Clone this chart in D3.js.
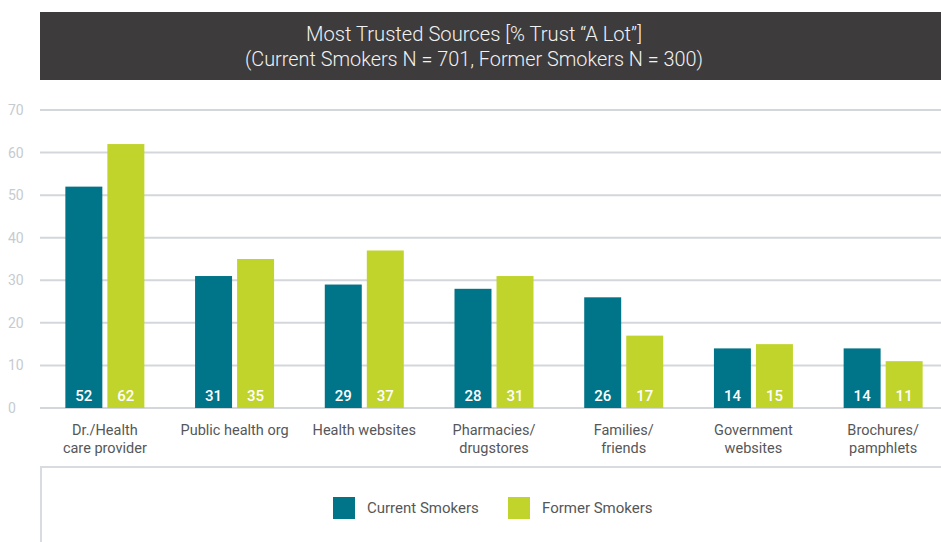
<!DOCTYPE html>
<html><head><meta charset="utf-8">
<script src="https://cdn.jsdelivr.net/npm/d3@7"></script>
<style>body{margin:0;background:#fff;}svg{display:block;font-family:Roboto,"Open Sans",sans-serif;}</style>
</head><body><svg id="c" width="941" height="542"></svg>
<script>
const categories = [["Dr./Health","care provider"],["Public health org"],["Health websites"],["Pharmacies/","drugstores"],["Families/","friends"],["Government","websites"],["Brochures/","pamphlets"]];
const seriesNames = ["Current Smokers","Former Smokers"];
const currentSmokers = [52,31,29,28,26,14,14];
const formerSmokers = [62,35,37,31,17,15,11];
const yTicks = [0,10,20,30,40,50,60,70];
const titleLines = ["Most Trusted Sources [% Trust \u201cA Lot\u201d]","(Current Smokers N = 701, Former Smokers N = 300)"];
const colors = ["#007489","#c1d42c"];

const svg = d3.select("#c");
// title bar
svg.append("rect").attr("x",40).attr("y",12).attr("width",901).attr("height",68).attr("fill","#3d3b3c");
svg.selectAll("text.title").data(titleLines).join("text").attr("class","title")
  .attr("x",474).attr("y",(d,i)=>41+i*25).attr("text-anchor","middle")
  .attr("fill","#f2f2f2").attr("font-size",21).attr("font-weight",300)
  .attr("textLength",(d,i)=>i===0?336:458).attr("lengthAdjust","spacingAndGlyphs")
  .text(d=>d);

const y = d3.scaleLinear().domain([0,70]).range([408,110]);
const x0 = d3.scaleBand().domain(d3.range(categories.length)).range([40,948]).padding(0);
const x1 = d3.scaleBand().domain([0,1]).range([-39.5,39.5]).paddingInner(0.12);

// gridlines
svg.selectAll("line.grid").data(yTicks).join("line").attr("class","grid")
  .attr("x1",40).attr("x2",941).attr("y1",d=>y(d)).attr("y2",d=>y(d))
  .attr("stroke","#d3d7db").attr("stroke-width",2);
svg.selectAll("text.ytick").data(yTicks).join("text").attr("class","ytick")
  .attr("x",8).attr("y",d=>y(d)+5).attr("fill","#c6cbd0").attr("font-size",14).text(d=>d);

const data = categories.map((c,i)=>({i, vals:[currentSmokers[i],formerSmokers[i]]}));
const g = svg.selectAll("g.grp").data(data).join("g").attr("class","grp")
  .attr("transform",d=>`translate(${x0(d.i)+x0.bandwidth()/2},0)`);
g.selectAll("rect").data(d=>d.vals.map((v,k)=>({v,k}))).join("rect")
  .attr("x",d=>x1(d.k)).attr("width",x1.bandwidth())
  .attr("y",d=>y(d.v)).attr("height",d=>y(0)-y(d.v)).attr("fill",d=>colors[d.k]);
g.selectAll("text.val").data(d=>d.vals.map((v,k)=>({v,k}))).join("text").attr("class","val")
  .attr("x",d=>x1(d.k)+x1.bandwidth()/2).attr("y",401).attr("text-anchor","middle")
  .attr("fill","#fff").attr("font-size",15).attr("font-weight",500).text(d=>d.v);
g.selectAll("text.cat").data(d=>categories[d.i].map((t,k)=>({t,k}))).join("text").attr("class","cat")
  .attr("x",0).attr("y",d=>435+d.k*18).attr("text-anchor","middle")
  .attr("fill","#555759").attr("font-size",14.5).text(d=>d.t);

// legend box
svg.append("path").attr("d","M41,542 V467 H941").attr("fill","none").attr("stroke","#d8dce0").attr("stroke-width",2);
const legX = [333,508];
const lg = svg.selectAll("g.leg").data(seriesNames).join("g").attr("class","leg")
  .attr("transform",(d,i)=>`translate(${legX[i]},497)`);
lg.append("rect").attr("width",22).attr("height",22).attr("fill",(d,i)=>colors[i]);
lg.append("text").attr("x",34).attr("y",16).attr("fill","#555759").attr("font-size",15).text(d=>d);
</script></body></html>
